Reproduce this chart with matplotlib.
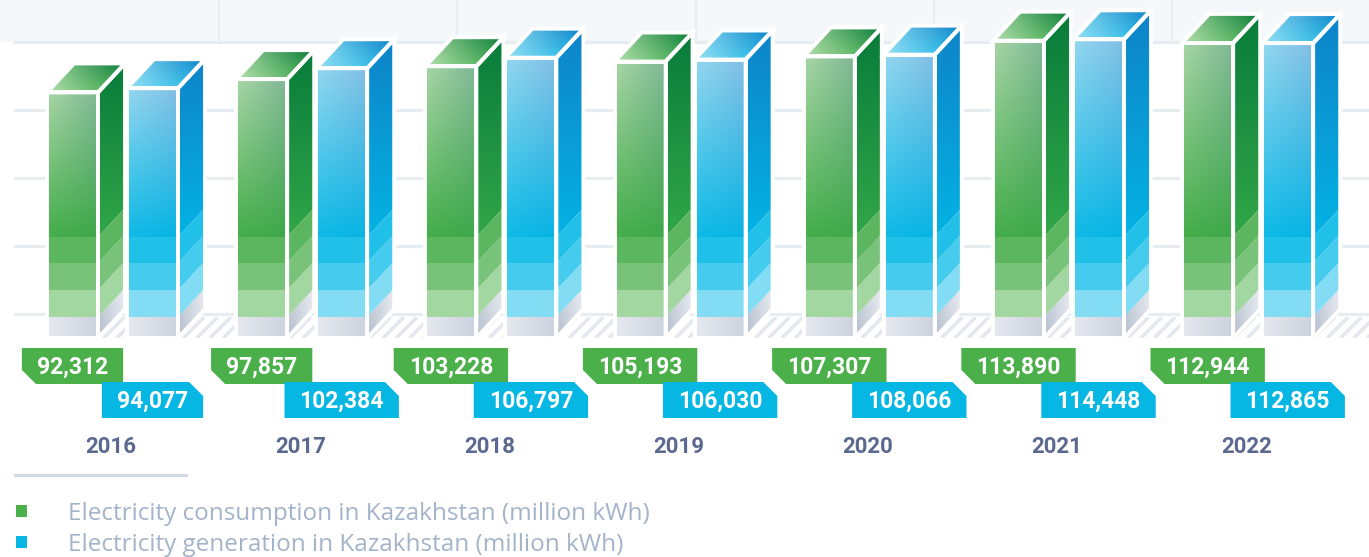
import numpy as np
import matplotlib.pyplot as plt
from matplotlib.patches import Polygon, Rectangle
from matplotlib.collections import LineCollection

years = ["2016", "2017", "2018", "2019", "2020", "2021", "2022"]
consumption = [92312, 97857, 103228, 105193, 107307, 113890, 112944]
generation = [94077, 102384, 106797, 106030, 108066, 114448, 112865]
legend_labels = [
    "Electricity consumption in Kazakhstan (million kWh)",
    "Electricity generation in Kazakhstan (million kWh)",
]

W_PX, H_PX = 1369, 557
X0_PX, STEP_PX = 111, 189.2      # first group centre, distance between groups
ZERO_PX, PX_PER_UNIT = 314, 0.0024


def ux(p):
    """pixel column -> data x"""
    return (p - X0_PX) / STEP_PX


def uy(p):
    """pixel row -> data y"""
    return (ZERO_PX - p) / PX_PER_UNIT


def wx(n):
    return n / STEP_PX


def hy(n):
    return n / PX_PER_UNIT


BAR_W = wx(51)
DX, DY = wx(27), hy(29)
FLOOR = uy(338)
BANDS = [uy(317), uy(290), uy(263), uy(237)]

GREEN = {
    "solid": "#4cb04a",
    "front": [(168, 214, 165), (128, 184, 150), (70, 174, 76), (62, 168, 74)],
    "side": [(8, 124, 58), (8, 124, 58), (50, 166, 72), (50, 166, 72)],
    "top": [(150, 208, 150), (10, 124, 58), (178, 222, 172), (60, 170, 72)],
    "bands": ["#a3d7a1", "#79c27a", "#5cb660"],
}
BLUE = {
    "solid": "#06b6e3",
    "front": [(146, 216, 240), (130, 190, 228), (16, 186, 230), (8, 180, 228)],
    "side": [(14, 132, 200), (14, 132, 200), (4, 178, 228), (4, 178, 228)],
    "top": [(130, 214, 240), (14, 130, 200), (150, 222, 244), (16, 184, 230)],
    "bands": ["#82dcf3", "#45cbee", "#21c0e8"],
}
GRAY_FRONT = [(230, 233, 239), (204, 211, 222), (230, 233, 239), (204, 211, 222)]
GRAY_SIDE = [(196, 204, 217), (232, 235, 240), (180, 190, 205), (226, 230, 236)]


def shade(ax, poly, corners, z, n=48):
    """fill a polygon with a bilinear gradient (tl, tr, bl, br)"""
    c = np.array(corners, float) / 255
    s = np.linspace(0, 1, n)[None, :, None]
    t = np.linspace(0, 1, n)[:, None, None]
    img = (c[0] * (1 - s) + c[1] * s) * (1 - t) + (c[2] * (1 - s) + c[3] * s) * t
    xs, ys = zip(*poly)
    im = ax.imshow(img, extent=(min(xs), max(xs), min(ys), max(ys)),
                   aspect="auto", interpolation="bilinear", zorder=z)
    im.set_clip_path(Polygon(poly, closed=True, transform=ax.transData))


def side_poly(x, lo, hi):
    return [(x, lo), (x + DX, lo + DY), (x + DX, hi + DY), (x, hi)]


def draw_bar(ax, xl, value, pal, z=3):
    xr = xl + BAR_W
    # front face
    shade(ax, [(xl, BANDS[3]), (xr, BANDS[3]), (xr, value), (xl, value)], pal["front"], z)
    shade(ax, [(xl, FLOOR), (xr, FLOOR), (xr, BANDS[0]), (xl, BANDS[0])], GRAY_FRONT, z)
    for lo, hi, col in zip(BANDS[:-1], BANDS[1:], pal["bands"]):
        ax.add_patch(Rectangle((xl, lo), BAR_W, hi - lo, facecolor=col, lw=0, zorder=z))
    # side face
    shade(ax, side_poly(xr, BANDS[3], value), pal["side"], z)
    shade(ax, side_poly(xr, FLOOR, BANDS[0]), GRAY_SIDE, z)
    for lo, hi, col in zip(BANDS[:-1], BANDS[1:], pal["bands"]):
        ax.add_patch(Polygon(side_poly(xr, lo, hi), facecolor=col, lw=0, zorder=z))
    # top face
    top = [(xl, value), (xr, value), (xr + DX, value + DY), (xl + DX, value + DY)]
    shade(ax, top, pal["top"], z)
    # white edges
    for poly in ([(xl, FLOOR), (xr, FLOOR), (xr, value), (xl, value)],
                 side_poly(xr, FLOOR, value), top):
        ax.add_patch(Polygon(poly, facecolor="none", edgecolor="white",
                             lw=2.8, joinstyle="miter", zorder=z + 0.5))


def tag(ax, xc, y_top, text, color, chamfer_left, renderer):
    t = ax.text(xc, y_top - hy(26), text, color="white", fontsize=16.5,
                fontfamily="Roboto", fontweight="bold", ha="center",
                va="baseline", zorder=6)
    half = wx(t.get_window_extent(renderer).width / 2 + 15)
    l, r = xc - half, xc + half
    top, bot = y_top, y_top - hy(36)
    c, ch = wx(14), hy(14)
    if chamfer_left:
        pts = [(l, top), (r, top), (r, bot), (l + c, bot), (l, bot + ch)]
    else:
        pts = [(l, top), (r - c, top), (r, top - ch), (r, bot), (l, bot)]
    ax.add_patch(Polygon(pts, facecolor=color, lw=0, zorder=5))


fig = plt.figure(figsize=(W_PX / 100, H_PX / 100), dpi=100)
ax = fig.add_axes([0, 0, 1, 1])
ax.set_xlim(ux(0), ux(W_PX))
ax.set_ylim(uy(H_PX), uy(0))
ax.set_autoscale_on(False)
ax.axis("off")

# background: tinted strip above the grid, horizontal grid lines
grid = np.arange(5) * hy(68)
ax.add_patch(Rectangle((ux(0), grid[-1]), ux(W_PX) - ux(0), uy(0) - grid[-1],
                       facecolor="#f5f8fb", lw=0, zorder=0))
for x in ux(219) + np.arange(-1, 6) * wx(238.3):
    ax.plot([x, x], [grid[-1], uy(0)], color="#e8edf2", lw=1.6, zorder=0.5)
for g in grid:
    ax.plot([ux(15), ux(W_PX)], [g, g], color="#e7ecf1", lw=2.3, zorder=1)

# striped floor under the bars
x_green = np.arange(len(years)) + wx(-64)
x_blue = np.arange(len(years)) + wx(16)
floor_left = x_green[0] + BAR_W
ax.add_patch(Rectangle((floor_left, FLOOR), ux(W_PX) - floor_left, BANDS[0] - FLOOR,
                       facecolor="white", lw=0, zorder=1.5))
rise = wx(21)
starts = np.arange(floor_left - rise, ux(W_PX), wx(13.3))
stripes = LineCollection([[(s, FLOOR), (s + rise, BANDS[0])] for s in starts],
                         colors="#e3e8ee", linewidths=2.6, zorder=1.6)
clip = Rectangle((floor_left, FLOOR), ux(W_PX) - floor_left, BANDS[0] - FLOOR,
                 transform=ax.transData)
ax.add_collection(stripes)
stripes.set_clip_path(clip)

for i in range(len(years)):
    draw_bar(ax, x_green[i], consumption[i], GREEN)
    draw_bar(ax, x_blue[i], generation[i], BLUE)

# value tags and year labels
fig.canvas.draw()
renderer = fig.canvas.get_renderer()
for i, year in enumerate(years):
    tag(ax, x_green[i] + BAR_W / 2, uy(348), f"{consumption[i]:,}",
        GREEN["solid"], True, renderer)
    tag(ax, x_blue[i] + BAR_W / 2, uy(382), f"{generation[i]:,}",
        BLUE["solid"], False, renderer)
    ax.text(i, uy(453), year, color="#5b6990", fontsize=16, fontfamily="Roboto",
            fontweight="bold", ha="center", va="baseline", zorder=6)

# legend
ax.plot([ux(15), ux(186)], [uy(475)] * 2, color="#cfd8e4", lw=2.3, zorder=1)
for k, (label, pal) in enumerate(zip(legend_labels, [GREEN, BLUE])):
    base_px = 520 + 31 * k
    ax.add_patch(Rectangle((ux(16), uy(base_px - 3)), wx(11), hy(12),
                           facecolor=pal["solid"], lw=0, zorder=5))
    ax.text(ux(68), uy(base_px), label, color="#a3b3c9", fontsize=17.5,
            fontfamily="Open Sans", ha="left", va="baseline")

fig.savefig("out.png", dpi=100)
